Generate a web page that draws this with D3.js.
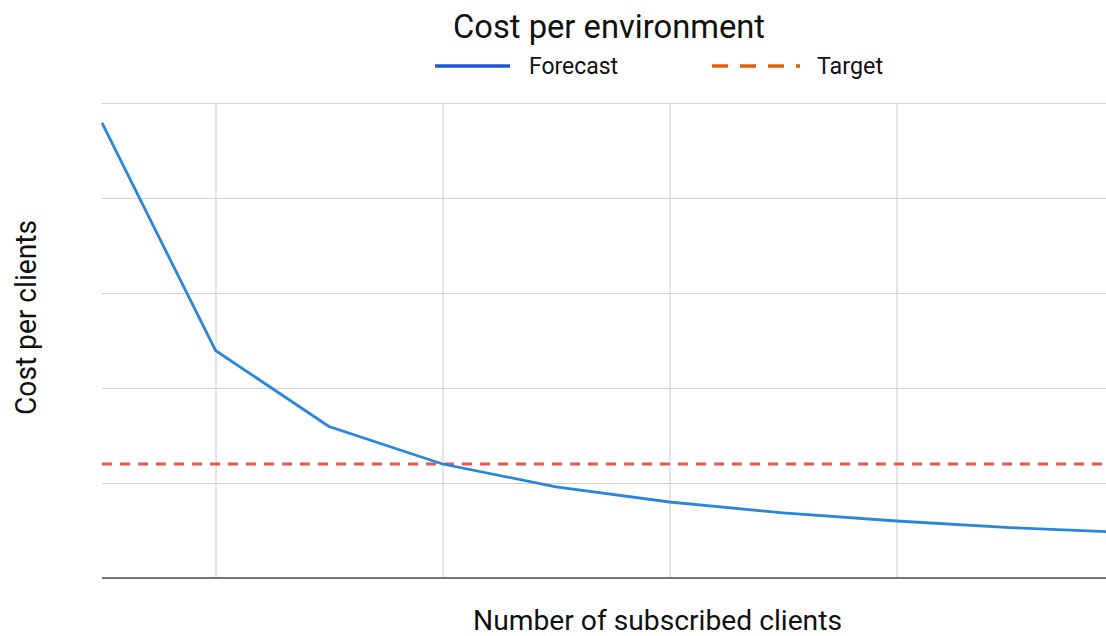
<!DOCTYPE html>
<html>
<head>
<meta charset="utf-8">
<script src="https://cdn.jsdelivr.net/npm/d3@7"></script>
<style>
  html, body { margin: 0; padding: 0; background: #fff; overflow: hidden; }
  svg { display: block; font-family: Roboto, "Noto Sans", sans-serif; }
</style>
</head>
<body>
<svg id="chart" width="1106" height="636"></svg>
<script>
// Data
const clients = [1, 2, 3, 4, 5, 6, 7, 8, 9, 10];
const forecast = [95.8, 47.9, 31.9, 24.0, 19.2, 16.0, 13.7, 12.0, 10.6, 9.6];
const target = 24.0;
const yTicks = [0, 20, 40, 60, 80, 100];
const xTicks = [2, 4, 6, 8, 10];
const seriesNames = ["Forecast", "Target"];

const svg = d3.select("#chart");
const W = 1106, H = 636;

const x = d3.scaleLinear().domain([1, 10]).range([102, 1123.5]);
const y = d3.scaleLinear().domain([0, 100]).range([578, 103]);

svg.append("defs").append("clipPath").attr("id", "clip")
  .append("rect").attr("x", 0).attr("y", 0).attr("width", W).attr("height", H);

const plot = svg.append("g").attr("clip-path", "url(#clip)");

// horizontal gridlines
plot.append("g")
  .attr("transform", `translate(${x(1)},0)`)
  .call(d3.axisLeft(y).tickValues(yTicks.slice(1)).tickSize(-(x(10) - x(1))).tickFormat(""))
  .call(g => g.select(".domain").remove())
  .call(g => g.selectAll("line").attr("stroke", "#d3d3d3").attr("stroke-width", 1.2));

// vertical gridlines
plot.append("g")
  .attr("transform", `translate(0,${y(0)})`)
  .call(d3.axisBottom(x).tickValues(xTicks).tickSize(-(y(0) - y(100))).tickFormat(""))
  .call(g => g.select(".domain").remove())
  .call(g => g.selectAll("line").attr("stroke", "#d3d3d3").attr("stroke-width", 1.2));

// baseline
plot.append("line")
  .attr("x1", x(1)).attr("x2", x(10))
  .attr("y1", y(0)).attr("y2", y(0))
  .attr("stroke", "#757575").attr("stroke-width", 2);

// target dashed line
plot.append("line")
  .attr("x1", x(1)).attr("x2", x(10))
  .attr("y1", y(target)).attr("y2", y(target))
  .attr("stroke", "#e8564c").attr("stroke-width", 2.8)
  .attr("stroke-dasharray", "10,8");

// forecast line
const line = d3.line().x((d, i) => x(clients[i])).y(d => y(d));
plot.append("path")
  .datum(forecast)
  .attr("fill", "none")
  .attr("stroke", "#2a86d8")
  .attr("stroke-width", 2.8)
  .attr("stroke-linejoin", "round")
  .attr("d", line);

// title
svg.append("text")
  .attr("x", 609).attr("y", 38)
  .attr("text-anchor", "middle")
  .attr("font-size", 33)
  .attr("fill", "#111")
  .attr("textLength", 312).attr("lengthAdjust", "spacingAndGlyphs")
  .text("Cost per environment");

// legend
const leg = svg.append("g");
leg.append("line")
  .attr("x1", 435).attr("x2", 510).attr("y1", 66).attr("y2", 66)
  .attr("stroke", "#1a56db").attr("stroke-width", 3.5);
leg.append("text")
  .attr("x", 529).attr("y", 74)
  .attr("font-size", 23).attr("fill", "#111")
  .attr("textLength", 89).attr("lengthAdjust", "spacingAndGlyphs")
  .text(seriesNames[0]);
leg.append("line")
  .attr("x1", 712).attr("x2", 800).attr("y1", 66).attr("y2", 66)
  .attr("stroke", "#e8600a").attr("stroke-width", 3.5)
  .attr("stroke-dasharray", "16,12");
leg.append("text")
  .attr("x", 817).attr("y", 74)
  .attr("font-size", 23).attr("fill", "#111")
  .attr("textLength", 66).attr("lengthAdjust", "spacingAndGlyphs")
  .text(seriesNames[1]);

// axis titles
svg.append("text")
  .attr("x", 657.5).attr("y", 630)
  .attr("text-anchor", "middle")
  .attr("font-size", 27).attr("fill", "#111")
  .attr("textLength", 369).attr("lengthAdjust", "spacingAndGlyphs")
  .text("Number of subscribed clients");

svg.append("text")
  .attr("transform", "translate(36,317.5) rotate(-90)")
  .attr("text-anchor", "middle")
  .attr("font-size", 29).attr("fill", "#111")
  .attr("textLength", 195).attr("lengthAdjust", "spacingAndGlyphs")
  .text("Cost per clients");
</script>
</body>
</html>
